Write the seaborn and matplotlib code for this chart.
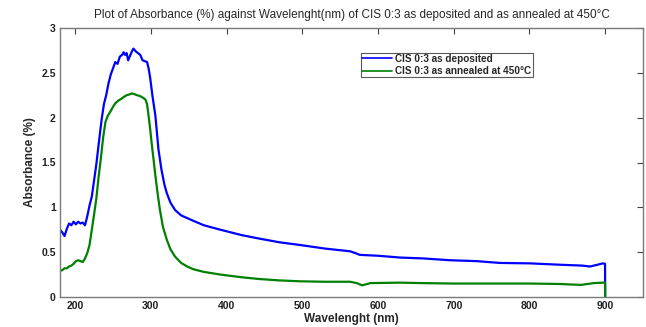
import matplotlib
matplotlib.use("Agg")
import matplotlib.pyplot as plt
import seaborn as sns
import pandas as pd

wl_dep = [180, 183, 186, 189, 192, 195, 198, 201, 204, 207, 210, 213, 216, 219, 222, 225, 228, 231,
          235, 238, 241, 244, 247, 250, 253, 256, 259, 262, 264, 266, 268, 270, 273, 275, 277, 280,
          283, 286, 289, 292, 295, 297, 299, 302, 306, 310, 314, 318, 321, 326, 332, 340, 348, 356,
          370, 392, 420, 444, 470, 497, 530, 563, 570, 576, 600, 629, 660, 695, 730, 761, 801, 840,
          870, 880, 890, 897, 899.9, 900]
ab_dep = [0.75, 0.72, 0.68, 0.76, 0.82, 0.80, 0.84, 0.81, 0.84, 0.82, 0.83, 0.80, 0.90, 1.02, 1.12,
          1.30, 1.48, 1.70, 1.98, 2.15, 2.25, 2.38, 2.48, 2.55, 2.62, 2.60, 2.68, 2.70, 2.73, 2.70,
          2.72, 2.64, 2.70, 2.74, 2.77, 2.74, 2.72, 2.70, 2.64, 2.63, 2.62, 2.55, 2.45, 2.25, 2.02,
          1.65, 1.42, 1.25, 1.16, 1.05, 0.97, 0.91, 0.88, 0.85, 0.80, 0.75, 0.69, 0.65, 0.61, 0.58,
          0.54, 0.51, 0.49, 0.47, 0.46, 0.44, 0.43, 0.41, 0.40, 0.38, 0.375, 0.36, 0.35, 0.34, 0.36,
          0.375, 0.37, 0.0]

wl_ann = [180, 183, 186, 189, 192, 195, 198, 201, 204, 207, 210, 213, 216, 219, 222, 225, 228, 231,
          234, 237, 240, 243, 246, 250, 253, 257, 261, 264, 268, 272, 275, 279, 282, 286, 290, 293,
          295, 297, 299, 301, 304, 306, 309, 312, 316, 321, 326, 332, 340, 348, 356, 370, 392, 420,
          444, 470, 497, 530, 563, 572, 579, 590, 629, 660, 700, 735, 770, 801, 840, 868, 885, 897,
          899.9, 900]
ab_ann = [0.29, 0.30, 0.32, 0.32, 0.34, 0.35, 0.37, 0.40, 0.41, 0.40, 0.39, 0.43, 0.49, 0.58, 0.75,
          0.92, 1.10, 1.34, 1.55, 1.78, 1.95, 2.02, 2.06, 2.12, 2.16, 2.19, 2.21, 2.23, 2.25, 2.26,
          2.27, 2.26, 2.25, 2.24, 2.22, 2.20, 2.15, 2.02, 1.88, 1.72, 1.50, 1.35, 1.15, 0.97, 0.78,
          0.64, 0.53, 0.45, 0.38, 0.34, 0.31, 0.28, 0.25, 0.22, 0.20, 0.185, 0.175, 0.17, 0.17,
          0.155, 0.13, 0.155, 0.16, 0.155, 0.15, 0.15, 0.15, 0.15, 0.145, 0.135, 0.155, 0.16, 0.16,
          0.0]

series_names = ["CIS 0:3 as deposited", "CIS 0:3 as annealed at 450°C"]
x_ticks = [200, 300, 400, 500, 600, 700, 800, 900]
y_ticks = [0, 0.5, 1, 1.5, 2, 2.5, 3]

sns.set_style("white")
plt.rcParams["font.family"] = ["Liberation Sans", "DejaVu Sans"]

df = pd.concat([
    pd.DataFrame({"wl": wl_dep, "ab": ab_dep, "series": series_names[0]}),
    pd.DataFrame({"wl": wl_ann, "ab": ab_ann, "series": series_names[1]}),
])

fig = plt.figure(figsize=(6.46, 3.27), dpi=100)
ax = fig.add_axes([60 / 646, 30 / 327, 583 / 646, 269 / 327])
sns.lineplot(data=df, x="wl", y="ab", hue="series", sort=False, estimator=None,
             palette=["#0000ff", "#008000"], linewidth=1.6, ax=ax)

ax.set_xlim(180, 950)
ax.set_ylim(0, 3)
ax.set_xticks(x_ticks)
ax.set_yticks(y_ticks)
ax.set_yticklabels(["0", "0.5", "1", "1.5", "2", "2.5", "3"])
for lab in ax.get_xticklabels() + ax.get_yticklabels():
    lab.set_fontweight("bold")
    lab.set_fontsize(7.5)
ax.tick_params(direction="in", top=True, right=True, length=4, width=0.8,
               color="#404040", pad=3, labelcolor="#202020")
for s in ax.spines.values():
    s.set_visible(True)
    s.set_color("#7a7a7a")
    s.set_linewidth(1.0)

ax.set_xlabel("Wavelenght (nm)", fontsize=8.5, fontweight="bold", labelpad=1)
ax.set_ylabel("Absorbance (%)", fontsize=8.5, fontweight="bold", labelpad=4)
ax.set_title("Plot of Absorbance (%) against Wavelenght(nm) of CIS 0:3 as deposited and as annealed at 450°C",
             fontsize=8.5, pad=7)

leg = ax.legend(loc="upper left", bbox_to_anchor=(0.517, 0.908), frameon=True, fancybox=False,
                prop={"weight": "bold", "size": 7.2}, handlelength=3.0,
                handletextpad=0.3, borderpad=0.1, labelspacing=0.25, borderaxespad=0)
leg.get_frame().set_edgecolor("#303030")
leg.get_frame().set_linewidth(0.8)
for line in leg.get_lines():
    line.set_linewidth(1.2)

fig.savefig("out.png", dpi=100)
